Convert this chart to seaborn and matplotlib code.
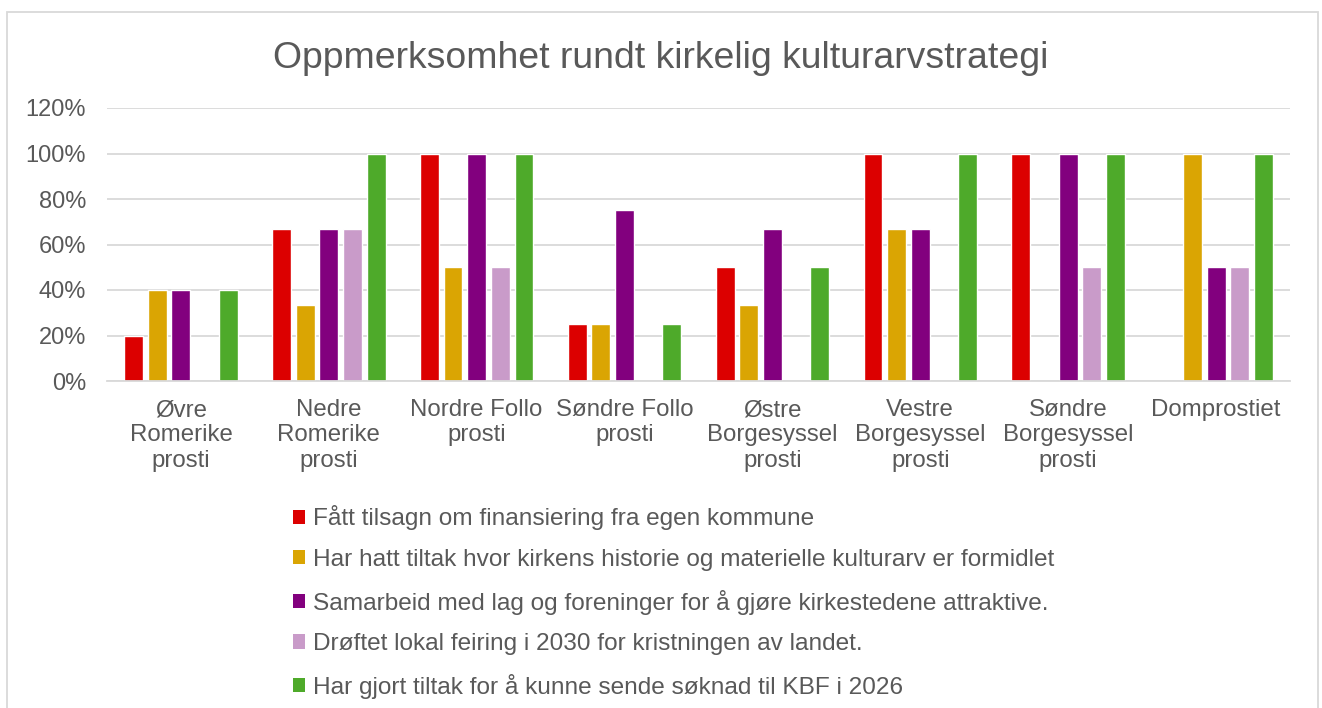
import pandas as pd
import numpy as np
import seaborn as sns
import matplotlib
matplotlib.use("Agg")
import matplotlib.pyplot as plt
from matplotlib.patches import Rectangle
from matplotlib.ticker import PercentFormatter

prostier = ["Øvre\nRomerike\nprosti", "Nedre\nRomerike\nprosti", "Nordre Follo\nprosti",
            "Søndre Follo\nprosti", "Østre\nBorgesyssel\nprosti", "Vestre\nBorgesyssel\nprosti",
            "Søndre\nBorgesyssel\nprosti", "Domprostiet"]
serier = ["Fått tilsagn om finansiering fra egen kommune",
          "Har hatt tiltak hvor kirkens historie og materielle kulturarv er formidlet",
          "Samarbeid med lag og foreninger for å gjøre kirkestedene attraktive.",
          "Drøftet lokal feiring i 2030 for kristningen av landet.",
          "Har gjort tiltak for å kunne sende søknad til KBF i 2026"]
finansiering = [0.20, 0.667, 1.00, 0.25, 0.50, 1.00, 1.00, 0.0]
formidlet = [0.40, 0.333, 0.50, 0.25, 0.333, 0.667, 0.0, 1.00]
samarbeid = [0.40, 0.667, 1.00, 0.75, 0.667, 0.667, 1.00, 0.50]
feiring = [0.0, 0.667, 0.50, 0.0, 0.0, 0.0, 0.50, 0.50]
kbf = [0.40, 1.00, 1.00, 0.25, 0.50, 1.00, 1.00, 1.00]
farger = ["#DC0000", "#DAA503", "#82007E", "#C99BC9", "#4EAA2A"]

rows = []
for s, vals in zip(serier, [finansiering, formidlet, samarbeid, feiring, kbf]):
    for p, v in zip(prostier, vals):
        rows.append({"prosti": p, "serie": s, "andel": v})
df = pd.DataFrame(rows)

sns.set_style("white")
plt.rcParams["font.family"] = ["Liberation Sans", "DejaVu Sans"]
grey = "#595959"

fig = plt.figure(figsize=(13.22, 7.08), dpi=100)
fig.patches.append(Rectangle((7 / 1322, -0.05), 1311 / 1322, 1.05 - 12 / 708,
                             transform=fig.transFigure, fill=False,
                             edgecolor="#D9D9D9", linewidth=1.3))
ax = fig.add_axes([107 / 1322, 327 / 708, 1183 / 1322, 273 / 708])
sns.barplot(data=df, x="prosti", y="andel", hue="serie", order=prostier,
            hue_order=serier, palette=farger, width=0.8, gap=0.2,
            saturation=1, ax=ax, legend=False)

ax.set_ylim(0, 1.2)
ax.set_xlim(-0.5, 7.5)
ax.set_yticks(np.arange(0, 1.21, 0.2))
ax.yaxis.set_major_formatter(PercentFormatter(1.0, decimals=0))
ax.grid(axis="y", color="#D9D9D9", linewidth=1.3)
ax.set_axisbelow(True)
for side in ["left", "right", "top"]:
    ax.spines[side].set_visible(False)
ax.spines["bottom"].set_color("#D9D9D9")
ax.spines["bottom"].set_linewidth(1.3)
ax.tick_params(axis="both", length=0, labelcolor=grey)
ax.tick_params(axis="y", pad=15, labelsize=17)
ax.tick_params(axis="x", pad=13, labelsize=17.3)
ax.set_xlabel("")
ax.set_ylabel("")

fig.text(0.5, 0.918, "Oppmerksomhet rundt kirkelig kulturarvstrategi",
         ha="center", va="center", fontsize=26.9, color=grey)

handles = [Rectangle((0, 0), 1, 1, facecolor=c, edgecolor="none") for c in farger]
leg = fig.legend(handles, serier, loc="upper left", bbox_to_anchor=(0.214, 0.3),
                 frameon=False, fontsize=17.6, labelcolor=grey, handlelength=0.52,
                 handleheight=0.52, handletextpad=0.32, labelspacing=0.76,
                 borderaxespad=0)

fig.savefig("out.png", dpi=100)
